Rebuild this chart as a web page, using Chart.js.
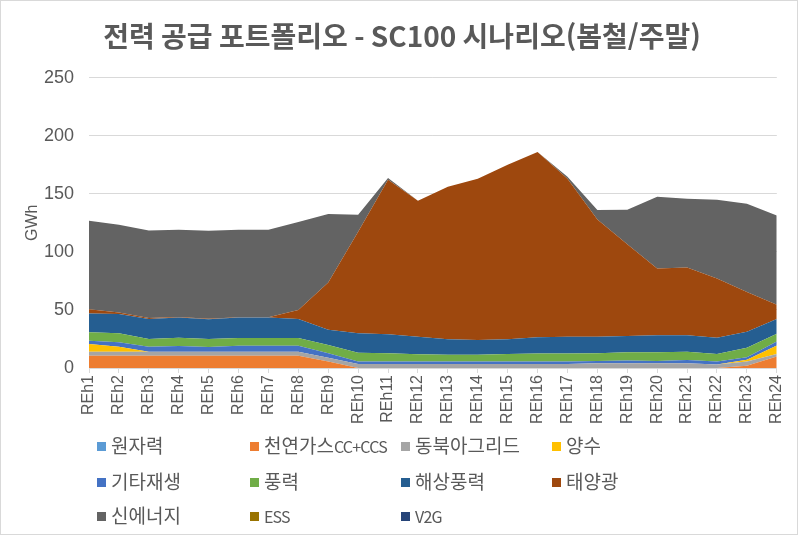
<!DOCTYPE html>
<html lang="ko">
<head>
<meta charset="utf-8">
<title>전력 공급 포트폴리오 - SC100 시나리오(봄철/주말)</title>
<script src="https://cdn.jsdelivr.net/npm/chart.js@4.4.1/dist/chart.umd.min.js"></script>
<style>
    html, body { margin: 0; padding: 0; background: #fff; }
    #wrap { position: relative; width: 798px; height: 535px; font-family: "Noto Sans CJK KR", "Noto Sans", sans-serif; }
    #frame { position: absolute; left: 0; top: 0; right: 0; bottom: 0; border: 1px solid #d9d9d9; pointer-events: none; }
    #legend { position: absolute; left: 0; top: 432px; width: 798px; }
    .item { position: absolute; height: 26px; line-height: 26px; font-size: 19px; color: #595959; white-space: nowrap; }
    .item i { display: inline-block; width: 9px; height: 9px; margin-right: 5px; vertical-align: 2px; }
    .item b { font-weight: normal; font-size: 16px; letter-spacing: -0.8px; }
</style>
</head>
<body>
<div id="wrap">
    <canvas id="supplyChart" width="798" height="535"></canvas>
    <div id="legend"></div>
    <div id="frame"></div>
</div>
<script>
// Categories and series (GWh)
const categories = ['REh1', 'REh2', 'REh3', 'REh4', 'REh5', 'REh6', 'REh7', 'REh8', 'REh9', 'REh10', 'REh11', 'REh12',
    'REh13', 'REh14', 'REh15', 'REh16', 'REh17', 'REh18', 'REh19', 'REh20', 'REh21', 'REh22', 'REh23', 'REh24'];
const yTicks = [0, 50, 100, 150, 200, 250];

const nuclear    = [0, 0, 0, 0, 0, 0, 0, 0, 0, 0, 0, 0, 0, 0, 0, 0, 0, 0, 0, 0, 0, 0, 0, 0];
const gas        = [10.6, 10.6, 10.6, 10.6, 10.6, 10.6, 10.6, 10.6, 5.5, 0, 0, 0, 0, 0, 0, 0, 0, 0, 0, 0, 0, 0, 2, 9.8];
const neaGrid    = [3.4, 3.4, 3.4, 3.4, 3.4, 3.4, 3.4, 3.4, 3.4, 3.4, 3.4, 3.4, 3.4, 3.4, 3.4, 3.4, 3.4, 4, 4, 4, 4, 3, 3.5, 2.3];
const pumped     = [6.7, 4.4, 0, 0, 0, 0, 0, 0, 0, 0, 0, 0, 0, 0, 0, 0, 0, 0, 0, 0, 0, 0, 1.5, 7.3];
const otherRenew = [2.8, 3.7, 4.4, 4.9, 4.1, 5.2, 5.2, 5.2, 3.7, 2.1, 2.1, 2.1, 2.1, 2.1, 2.1, 2.1, 2.1, 2, 2.5, 2, 2.9, 2.5, 2.2, 3.4];
const wind       = [7.2, 7.8, 6.6, 7.2, 6.9, 6.7, 6.7, 6.7, 7.2, 7.7, 7.1, 6.3, 6, 6, 6.6, 6.9, 6.9, 6.6, 7, 7.5, 7.1, 6.6, 8.3, 6.7];
const offshore   = [16.3, 16.6, 17.2, 17.3, 17, 17.5, 17.5, 16.3, 13.2, 16.7, 16.4, 15.2, 13.2, 12.6, 12.6, 14, 14.6, 14.4, 14.1, 14.7, 14.2, 14, 13.8, 12.7];
const solar      = [3.5, 1.2, 0.8, 0.6, 0.3, 0.3, 0.3, 7.8, 40.5, 87.5, 133, 117, 131.3, 138.9, 150.3, 159.6, 136, 100.8, 78.9, 57.5, 58.4, 50.9, 34.2, 12.2];
const newEnergy  = [76.2, 75.6, 75.4, 75, 75.8, 75.3, 75.3, 75.6, 59, 14.5, 1.5, 0, 0, 0, 0, 0, 1.6, 8.2, 29.7, 61.7, 59.1, 67.8, 75.9, 76.8];
const ess        = [0, 0, 0, 0, 0, 0, 0, 0, 0, 0, 0, 0, 0, 0, 0, 0, 0, 0, 0, 0, 0, 0, 0, 0];
const v2g        = [0, 0, 0, 0, 0, 0, 0, 0, 0, 0, 0, 0, 0, 0, 0, 0, 0, 0, 0, 0, 0, 0, 0, 0];

const seriesNames  = ['원자력', '천연가스CC+CCS', '동북아그리드', '양수', '기타재생', '풍력', '해상풍력', '태양광', '신에너지', 'ESS', 'V2G'];
const seriesData   = [nuclear, gas, neaGrid, pumped, otherRenew, wind, offshore, solar, newEnergy, ess, v2g];
const seriesColors = ['#5b9bd5', '#ed7d31', '#a5a5a5', '#ffc000', '#4472c4', '#70ad47', '#255e91', '#9e480e', '#636363', '#997300', '#264478'];

const textColor = '#595959';
const gridColor = '#d9d9d9';

document.addEventListener('DOMContentLoaded', function() {
    drawChart();
    buildLegend();
});

function drawChart() {
    const ctx = document.getElementById('supplyChart').getContext('2d');
    new Chart(ctx, {
        type: 'line',
        data: {
            labels: categories,
            datasets: seriesNames.map((name, i) => ({
                label: name,
                data: seriesData[i],
                backgroundColor: seriesColors[i],
                borderColor: seriesColors[i],
                borderWidth: 0,
                pointRadius: 0,
                tension: 0,
                fill: i === 0 ? 'origin' : '-1'
            }))
        },
        options: {
            responsive: false,
            animation: false,
            layout: { padding: { left: 20, right: 14, top: 0, bottom: 105 } },
            plugins: {
                legend: { display: false },
                tooltip: { enabled: false },
                title: {
                    display: true,
                    text: '전력 공급 포트폴리오 - SC100 시나리오(봄철/주말)',
                    color: textColor,
                    font: { family: '"Noto Sans CJK KR", sans-serif', size: 28, weight: 'bold' },
                    padding: { top: 20, bottom: 24 }
                }
            },
            scales: {
                x: {
                    offset: false,
                    grid: { display: true, drawOnChartArea: false, drawTicks: true, tickLength: 5, color: gridColor },
                    border: { display: true, color: gridColor },
                    ticks: {
                        color: textColor,
                        font: { family: '"Liberation Sans", Arial, sans-serif', size: 16 },
                        minRotation: 90,
                        maxRotation: 90,
                        autoSkip: false,
                        padding: 2
                    },
                    afterFit: function(scale) { scale.height = 62; }
                },
                y: {
                    stacked: true,
                    min: 0,
                    max: 250,
                    afterBuildTicks: function(scale) { scale.ticks = yTicks.map(v => ({ value: v })); },
                    grid: { color: gridColor, drawTicks: false },
                    border: { display: false },
                    ticks: {
                        color: textColor,
                        font: { family: '"Liberation Sans", Arial, sans-serif', size: 18 },
                        padding: 15
                    },
                    title: {
                        display: true,
                        text: 'GWh',
                        color: textColor,
                        font: { family: '"Liberation Sans", Arial, sans-serif', size: 16 },
                        padding: { top: 3, bottom: 4 }
                    },
                    afterFit: function(scale) { scale.width = 69; }
                }
            }
        }
    });
}

// Legend laid out on a 4-column grid like the original; Latin parts set smaller
function buildLegend() {
    const colX = [97, 250, 401, 552];
    const rowY = [0, 36, 70];
    const box = document.getElementById('legend');
    seriesNames.forEach((name, i) => {
        const div = document.createElement('div');
        div.className = 'item';
        div.style.left = colX[i % 4] + 'px';
        div.style.top = rowY[Math.floor(i / 4)] + 'px';
        const label = escapeHtml(name).replace(/([A-Za-z0-9+]+)/g, '<b>$1</b>');
        div.innerHTML = '<i style="background:' + seriesColors[i] + '"></i>' + label;
        box.appendChild(div);
    });
}

function escapeHtml(text) {
    const div = document.createElement('div');
    div.textContent = text;
    return div.innerHTML;
}
</script>
</body>
</html>
